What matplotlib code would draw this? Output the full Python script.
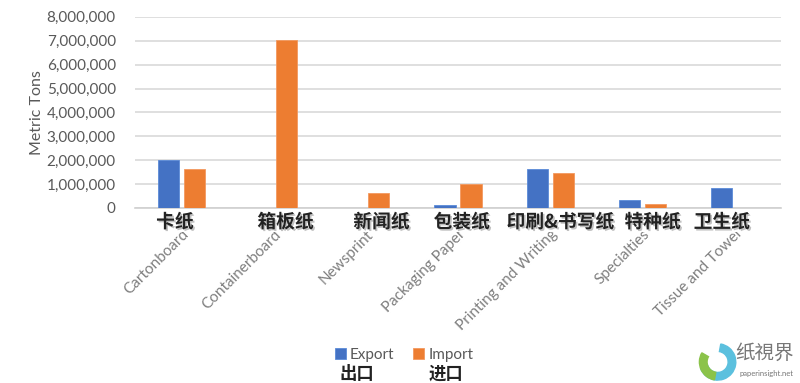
import matplotlib.pyplot as plt
import matplotlib.patheffects as pe
from matplotlib.patches import Wedge
from matplotlib.ticker import FuncFormatter
import numpy as np

# ---------------- DATA ----------------
categories_en = ["Cartonboard", "Containerboard", "Newsprint", "Packaging Paper",
                 "Printing and Writing", "Specialties", "Tissue and Towel"]
categories_cn = ["卡纸", "箱板纸", "新闻纸", "包装纸", "印刷&书写纸", "特种纸", "卫生纸"]
export_tons = [2000000, 0, 0, 120000, 1630000, 330000, 850000]
import_tons = [1620000, 7030000, 640000, 990000, 1460000, 150000, 0]
cn_offsets = [-0.07, 0.13, 0.17, 0.04, 0.11, 0.11, -0.14]

BLUE = "#4472C4"
ORANGE = "#ED7D31"
GRAY = "#595959"

plt.rcParams['font.family'] = ['Lato', 'DejaVu Sans']
CN = ['Noto Sans CJK SC', 'DejaVu Sans']

fig = plt.figure(figsize=(8, 3.83), dpi=100)
ax = fig.add_axes([0.169, 0.457, 0.807, 0.499])

x = np.arange(len(categories_en))
w = 0.23
ax.bar(x - 0.14, export_tons, w, color=BLUE, edgecolor="#5B8BD8", linewidth=0.6,
       label="Export", zorder=3)
ax.bar(x + 0.14, import_tons, w, color=ORANGE, edgecolor="#F3995F", linewidth=0.6,
       label="Import", zorder=3)

ax.set_xlim(-0.5, len(categories_en) - 0.5)
ax.set_ylim(0, 8000000)
ax.set_yticks(np.arange(0, 8000001, 1000000))
ax.yaxis.set_major_formatter(FuncFormatter(lambda v, p: f"{int(v):,}"))
ax.grid(axis="y", color="#d9d9d9", linewidth=1.2, zorder=0)
for s in ["top", "right", "left"]:
    ax.spines[s].set_visible(False)
ax.spines["bottom"].set_color("#d0d0d0")
ax.spines["bottom"].set_linewidth(1.2)
ax.tick_params(axis="both", length=0, colors=GRAY, labelsize=11)
ax.tick_params(axis="y", pad=14)
ax.set_ylabel("Metric Tons", color=GRAY, fontsize=11.5, labelpad=2)

ax.set_xticks(x)
ax.set_xticklabels(categories_en, rotation=45, ha="right", rotation_mode="anchor",
                   fontsize=11, color="#7f7f7f")
ax.tick_params(axis="x", pad=14)

# chinese category labels over the english ones
for i, lab in enumerate(categories_cn):
    ax.text(i + cn_offsets[i], -200000, lab, ha="center", va="top", fontsize=13.5,
            fontweight="bold", family=CN, color="#222222", zorder=10,
            bbox=dict(facecolor="white", edgecolor="none", pad=0.3),
            path_effects=[pe.withSimplePatchShadow(offset=(1.2, -1.2), alpha=0.25)],
            clip_on=False)

# legend
fig.legend(loc="center", bbox_to_anchor=(0.505, 0.073), ncol=2, frameon=False,
           handlelength=0.7, handleheight=0.7, handletextpad=0.3, columnspacing=1.2,
           fontsize=11, labelcolor=GRAY)
fig.text(0.446, 0.047, "出口", family=CN, fontsize=12.5, fontweight="bold",
         ha="center", va="top", color="#222222")
fig.text(0.558, 0.047, "进口", family=CN, fontsize=12.5, fontweight="bold",
         ha="center", va="top", color="#222222")

# watermark logo
lax = fig.add_axes([0.872, 0.005, 0.05, 0.1])
lax.set_xlim(-1, 1)
lax.set_ylim(-1, 1)
lax.set_aspect("equal")
lax.axis("off")
lax.add_patch(Wedge((0, 0), 0.95, 200, 80, width=0.4, color="#5BC0DE"))
lax.add_patch(Wedge((0, 0), 0.95, 150, 260, width=0.4, color="#8BC34A"))
fig.text(0.956, 0.078, "纸視界", family=CN, fontsize=14, color="#777777",
         ha="center", va="center")
fig.text(0.958, 0.024, "paperinsight.net", fontsize=5.5, color="#777777",
         ha="center", va="center")

fig.savefig("out.png", dpi=100)
